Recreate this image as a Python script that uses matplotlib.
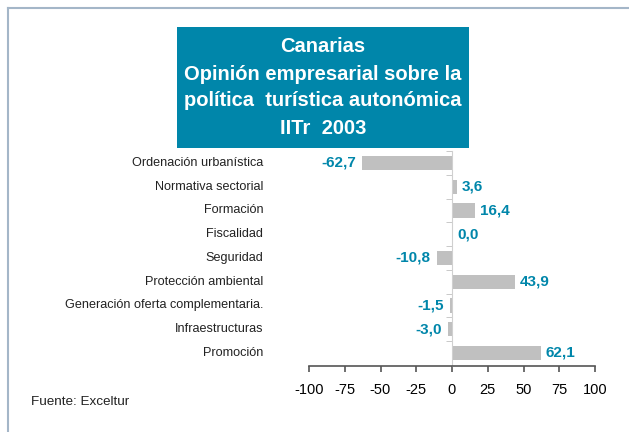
import numpy as np
import matplotlib
matplotlib.use('Agg')
import matplotlib.pyplot as plt
from matplotlib.patches import Rectangle
from matplotlib.lines import Line2D
import matplotlib.transforms as mtransforms

plt.rcParams['font.family'] = ['Liberation Sans', 'DejaVu Sans']

categorias = ['Ordenación urbanística', 'Normativa sectorial', 'Formación',
              'Fiscalidad', 'Seguridad', 'Protección ambiental',
              'Generación oferta complementaria.', 'Infraestructuras', 'Promoción']
valores = [-62.7, 3.6, 16.4, 0.0, -10.8, 43.9, -1.5, -3.0, 62.1]
xticks = [-100, -75, -50, -25, 0, 25, 50, 75, 100]
titulo = ['Canarias', 'Opinión empresarial sobre la',
          'política  turística autonómica', 'IITr  2003']

teal = '#0086aa'

fig = plt.figure(figsize=(6.29, 4.32), dpi=100)
W, H = 629, 432

# marco exterior
fig.add_artist(Line2D([8 / W, 1], [1 - 8 / H, 1 - 8 / H], color='#a4b6c8', lw=1.5))
fig.add_artist(Line2D([8 / W, 8 / W], [0, 1 - 8 / H], color='#a4b6c8', lw=1.5))

# caja del titulo
fig.add_artist(Rectangle((177 / W, 1 - 148 / H), 292 / W, 121 / H,
                         facecolor=teal, edgecolor='none'))
for i, linea in enumerate(titulo):
    fig.text(323 / W, 1 - (47 + 27 * i) / H, linea, color='white',
             fontsize=14.5, fontweight='bold', ha='center', va='center')

ax = fig.add_axes([309 / W, 1 - 366 / H, 286 / W, (366 - 151) / H])
y = np.arange(len(categorias))
ax.barh(y, valores, height=0.6, color='#c0c0c0')
ax.set_xlim(-100, 100)
ax.set_ylim(8.55, -0.5)

ax.spines['top'].set_visible(False)
ax.spines['right'].set_visible(False)
ax.spines['left'].set_position(('data', 0))
ax.spines['left'].set_color('#d0d0d0')
ax.spines['bottom'].set_color('#555555')
ax.spines['bottom'].set_linewidth(1.2)

ax.set_xticks(xticks)
ax.set_xticklabels([str(t) for t in xticks])
ax.tick_params(axis='x', direction='out', length=4, width=1.2, color='#555555',
               labelsize=10.5, pad=8)

ax.set_yticks([])
ax.set_yticks(np.arange(-0.5, len(categorias) - 0.5), minor=True)
ax.tick_params(axis='y', which='minor', length=4, color='#c0c0c0', direction='out')
ax.tick_params(axis='y', which='minor', labelleft=False)

trans = mtransforms.blended_transform_factory(ax.transAxes, ax.transData)
for yi, cat in zip(y, categorias):
    ax.text(-0.16, yi, cat, transform=trans, ha='right', va='center',
            fontsize=9.1, color='#222222')

for yi, v in zip(y, valores):
    txt = f'{v:.1f}'.replace('.', ',')
    if v < 0:
        ax.text(v - 4, yi, txt, ha='right', va='center', color=teal,
                fontsize=11, fontweight='bold')
    else:
        ax.text(v + 3.5, yi, txt, ha='left', va='center', color=teal,
                fontsize=11, fontweight='bold')

fig.text(31 / W, 1 - 402 / H, 'Fuente: Exceltur', fontsize=9.7,
         color='#222222', ha='left', va='center')

fig.savefig('out.png', dpi=100)
